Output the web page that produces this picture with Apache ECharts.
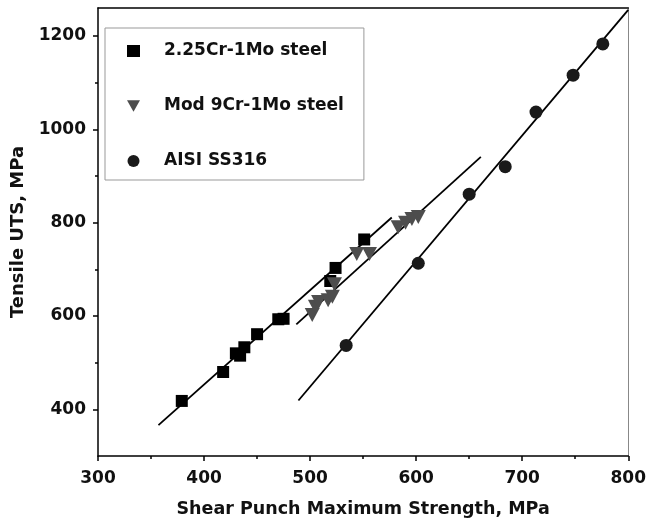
<!DOCTYPE html>
<html>
<head>
<meta charset="utf-8">
<script src="https://cdn.jsdelivr.net/npm/echarts@6/dist/echarts.min.js"></script>
<style>html,body{margin:0;padding:0;background:#fff}#c{width:649px;height:523px}</style>
</head>
<body>
<div id="c"></div>
<script>
// Data
var seriesNames = ['2.25Cr-1Mo steel', 'Mod 9Cr-1Mo steel', 'AISI SS316'];
var crMo225 = [[379,418],[418,480],[430,520],[434,515],[438,533],[450,561],[470,593],[475,594],[519,675],[524,703],[551,764]];
var mod9CrMo = [[502,602],[505,620],[508,630],[517,634],[521,641],[523,668],[544,733],[556,733],[583,790],[590,800],[596,808],[602,812]];
var ss316 = [[534,537],[602,713],[650,861],[684,920],[713,1037],[748,1116],[776,1183],[743,1269]];
var fit225 = [[357,366],[577,811]];
var fit9Cr = [[487,582],[661,941]];
var fit316 = [[489,419],[800,1256]];
var xMajorTicks = [300,400,500,600,700,800];
var xMinorTicks = [350,450,550,650,750];
var yMajorTicks = [400,600,800,1000,1200];
var yMinorTicks = [500,700,900,1100];
var xTitle = 'Shear Punch Maximum Strength, MPa';
var yTitle = 'Tensile UTS, MPa';

var FONT = '"DejaVu Sans", sans-serif';
var TRI_DOWN = 'path://M0,0L10,0L5,9Z';
var chart = echarts.init(document.getElementById('c'), null, {renderer: 'canvas'});
var lineSeries = function (d) {
  return {type: 'line', data: d, showSymbol: false, symbol: 'none', silent: true,
    lineStyle: {color: '#000', width: 1.8}, z: 1, animation: false};
};
var plain = function (v) { return String(v); };
var option = {
  animation: false,
  backgroundColor: '#fff',
  grid: {left: 98, right: 17, top: 8, bottom: 64, containLabel: false},
  legend: {
    orient: 'vertical', left: 105, top: 28,
    data: [
      {name: seriesNames[0], icon: 'rect', itemStyle: {color: '#000'}},
      {name: seriesNames[1], icon: TRI_DOWN, itemStyle: {color: '#4d4d4d'}},
      {name: seriesNames[2], icon: 'circle', itemStyle: {color: '#1a1a1a'}}
    ],
    itemWidth: 13, itemHeight: 12, itemGap: 35,
    padding: [13, 20, 9, 22],
    borderColor: '#999', borderWidth: 1,
    textStyle: {fontFamily: FONT, fontWeight: 'bold', fontSize: 17, color: '#111', lineHeight: 20, padding: [0, 0, 0, 19]}
  },
  xAxis: [
    {type: 'value', min: 300, max: 800, interval: 100, position: 'bottom',
     axisLine: {show: true, onZero: false, lineStyle: {color: '#000', width: 1.5}},
     axisTick: {show: true, length: 5, customValues: xMajorTicks, lineStyle: {color: '#000', width: 1.5}},
     axisLabel: {customValues: xMajorTicks, formatter: plain, fontFamily: FONT, fontWeight: 'bold', fontSize: 17, color: '#111', margin: 14},
     splitLine: {show: false},
     name: xTitle, nameLocation: 'middle', nameGap: 44,
     nameTextStyle: {fontFamily: FONT, fontWeight: 'bold', fontSize: 17.5, color: '#111'}},
    {type: 'value', min: 300, max: 800, position: 'bottom',
     axisLine: {show: false}, axisLabel: {show: false}, splitLine: {show: false},
     axisTick: {show: true, length: 3, customValues: xMinorTicks, lineStyle: {color: '#000', width: 1.5}}},
    {type: 'value', min: 300, max: 800, position: 'top',
     axisLine: {show: true, onZero: false, lineStyle: {color: '#000', width: 1.5}},
     axisTick: {show: false}, axisLabel: {show: false}, splitLine: {show: false}}
  ],
  yAxis: [
    {type: 'value', min: 300, max: 1260, interval: 100, position: 'left',
     axisLine: {show: true, onZero: false, lineStyle: {color: '#000', width: 1.5}},
     axisTick: {show: true, length: 5, customValues: yMajorTicks, lineStyle: {color: '#000', width: 1.5}},
     axisLabel: {customValues: yMajorTicks, formatter: plain, fontFamily: FONT, fontWeight: 'bold', fontSize: 17, color: '#111', margin: 12},
     splitLine: {show: false},
     name: yTitle, nameLocation: 'middle', nameGap: 70, nameRotate: 90,
     nameTextStyle: {fontFamily: FONT, fontWeight: 'bold', fontSize: 18, color: '#111'}},
    {type: 'value', min: 300, max: 1260, position: 'left',
     axisLine: {show: false}, axisLabel: {show: false}, splitLine: {show: false},
     axisTick: {show: true, length: 3, customValues: yMinorTicks, lineStyle: {color: '#000', width: 1.5}}},
    {type: 'value', min: 300, max: 1260, position: 'right',
     axisLine: {show: true, onZero: false, lineStyle: {color: '#888', width: 1}},
     axisTick: {show: false}, axisLabel: {show: false}, splitLine: {show: false}}
  ],
  series: [
    {name: seriesNames[0], type: 'scatter', data: crMo225, symbol: 'rect', symbolSize: 12,
     itemStyle: {color: '#000', opacity: 1}, z: 3},
    {name: seriesNames[1], type: 'scatter', data: mod9CrMo, symbol: TRI_DOWN, symbolSize: [15, 14],
     itemStyle: {color: '#4d4d4d', opacity: 1}, z: 3},
    {name: seriesNames[2], type: 'scatter', data: ss316, symbol: 'circle', symbolSize: 13,
     itemStyle: {color: '#1a1a1a', opacity: 1}, z: 3},
    lineSeries(fit225), lineSeries(fit9Cr), lineSeries(fit316)
  ]
};
chart.setOption(option);
</script>
</body>
</html>
